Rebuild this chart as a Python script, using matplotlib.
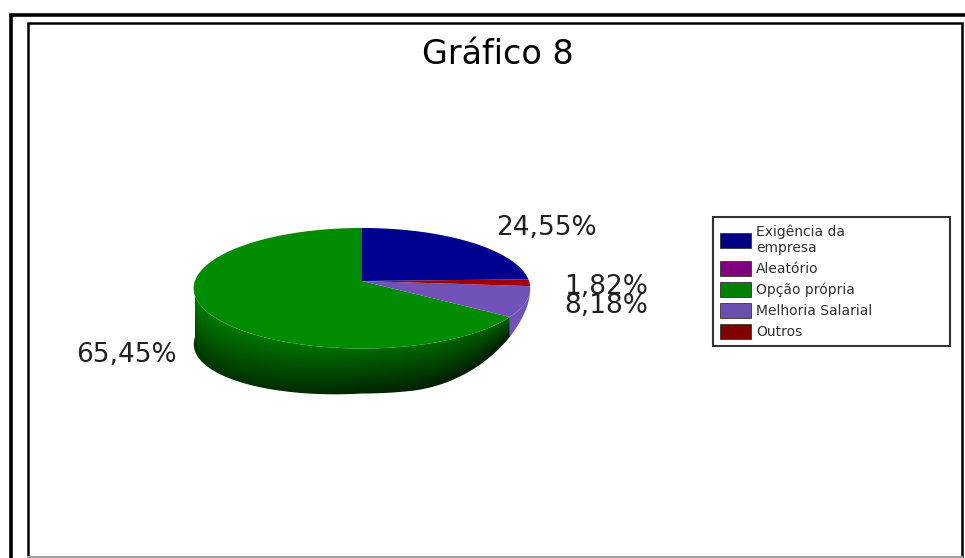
"""
Gráfico 8 — pizza 3D com legenda à direita (recriação em matplotlib)
"""
import matplotlib
matplotlib.use("Agg")
import matplotlib.pyplot as plt
import numpy as np
from matplotlib.patches import Patch, Polygon
from matplotlib import colors as mcolors

plt.rcParams["font.family"] = ["DejaVu Sans"]

TITLE = "Gráfico 8"
# ordem da legenda
LEGEND_LABELS = ["Exigência da\nempresa", "Aleatório", "Opção própria",
                 "Melhoria Salarial", "Outros"]
LEGEND_COLORS = ["#000080", "#800080", "#008000", "#6a4fb0", "#800000"]

# ordem das fatias na pizza (anti-horário a partir do topo)
SLICE_NAMES = ["Opção própria", "Melhoria Salarial", "Outros", "Aleatório",
               "Exigência da empresa"]
SLICE_VALUES = [65.45, 8.18, 1.82, 0.0, 24.55]
SLICE_COLORS = ["#008c00", "#7052b8", "#a00008", "#800080", "#000090"]
SLICE_LABELS = ["65,45%", "8,18%", "1,82%", "", "24,55%"]

# geometria (pixels da figura)
W, H = 965, 558
CX, CY = 362, 281          # centro da pizza (vértice das fatias)
RA, RB = 167, 59.4         # semi-eixos do topo
PERSP = 0.12               # perspectiva (frente maior que o fundo)
START = 90.0

# posição dos rótulos (pixels)
LABEL_POS = {"65,45%": (126, 355), "8,18%": (606, 306),
             "1,82%": (606, 287), "24,55%": (546, 228)}


def top(t):
    r = np.deg2rad(t)
    c, s = np.cos(r), np.sin(r)
    w = 1 + PERSP * s
    return CX + RA * c / w, CY - RB * s / w


def depth(t):
    r = np.deg2rad(t)
    d = 45 + 11 * np.clip(-np.cos(r), 0, None)
    u = np.clip((360 - np.asarray(t)) / 75.0, 0, 1)
    return d * (3 * u ** 2 - 2 * u ** 3)


def main():
    fig = plt.figure(figsize=(W / 100, H / 100), dpi=100)
    ax = fig.add_axes([0, 0, 1, 1])

    # molduras
    ax.plot([10.5, 10.5, W + 5], [H + 5, 14.5, 14.5], color="black", lw=2.6,
            solid_capstyle="butt", solid_joinstyle="miter")
    ax.plot([28, 28, 961.5, 961.5], [H + 5, 22.5, 22.5, H + 5], color="black",
            lw=1.8, solid_joinstyle="miter")
    ax.plot([28, 961.5], [556.5, 556.5], color="#a0a0a0", lw=1.5)

    ax.text(498, 55, TITLE, ha="center", va="center", fontsize=24)

    vals = np.array(SLICE_VALUES)
    angs = START + np.concatenate([[0], np.cumsum(vals)]) / vals.sum() * 360.0

    # contorno frontal completo (para o degradê)
    tf = np.linspace(180, 360, 361)
    xf, yf = top(tf)
    yb_f = yf + depth(tf)

    # lateral (metade de baixo: 180..360 graus)
    for i, (a0, a1) in enumerate(zip(angs[:-1], angs[1:])):
        if vals[i] <= 0:
            continue
        for off in (0.0, 360.0):
            lo, hi = max(a0 - off, 180.0), min(a1 - off, 360.0)
            if hi <= lo:
                continue
            tt = np.linspace(lo, hi, max(3, int(hi - lo) + 2))
            xt, yt = top(tt)
            yb = yt + depth(tt)
            px, py = np.r_[xt, xt[::-1]], np.r_[yt, yb[::-1]]
            if i == 0:
                # lateral verde com degradê
                x0, x1, y0, y1 = px.min() - 2, px.max() + 2, py.min() - 2, py.max() + 2
                gx, gy = np.meshgrid(np.linspace(x0, x1, 360),
                                     np.linspace(y0, y1, 140))
                rim = np.interp(gx, xf, yf)
                bot = np.interp(gx, xf, yb_f)
                v = np.clip((gy - rim) / np.maximum(bot - rim, 1), 0, 1)
                h = np.clip((gx - 195) / 335.0, 0, 1)
                f = 0.88 - 0.5 * v - 0.22 * h
                rgb = np.array(mcolors.to_rgb(SLICE_COLORS[i]))
                img = np.clip(f[..., None] * rgb[None, None, :], 0, 1)
                im = ax.imshow(img, extent=(x0, x1, y1, y0), origin="upper",
                               aspect="auto", interpolation="bilinear", zorder=1)
                clip = Polygon(np.c_[px, py], closed=True, transform=ax.transData)
                im.set_clip_path(clip)
            else:
                ax.fill(px, py, color=SLICE_COLORS[i], lw=0, zorder=1)

    # topo
    for i, (a0, a1) in enumerate(zip(angs[:-1], angs[1:])):
        if vals[i] <= 0:
            continue
        tt = np.linspace(a0, a1, max(3, int(a1 - a0) + 2))
        xs, ys = top(tt)
        ax.fill(np.r_[CX, xs], np.r_[CY, ys], color=SLICE_COLORS[i], lw=0,
                zorder=2)

    for lab in SLICE_LABELS:
        if lab:
            x, y = LABEL_POS[lab]
            ax.text(x, y, lab, ha="center", va="center", fontsize=19,
                    color="#202020")

    ax.set_xlim(0, W)
    ax.set_ylim(H, 0)
    ax.axis("off")

    handles = [Patch(facecolor=c, edgecolor="#333333", lw=0.6)
               for c in LEGEND_COLORS]
    leg = ax.legend(handles, LEGEND_LABELS, loc="upper left",
                    bbox_to_anchor=(713 / W, 1 - 223 / H, 237 / W, 0.01),
                    bbox_transform=fig.transFigure, mode="expand",
                    fontsize=10, frameon=True, fancybox=False,
                    handlelength=2.2, handleheight=1.2, handletextpad=0.4,
                    labelspacing=0.45, borderpad=0.5, borderaxespad=0)
    leg.get_frame().set_edgecolor("black")
    leg.get_frame().set_linewidth(1.5)
    for t in leg.get_texts():
        t.set_color("#303030")

    fig.savefig("out.png", dpi=100)
    plt.close(fig)


if __name__ == "__main__":
    main()
